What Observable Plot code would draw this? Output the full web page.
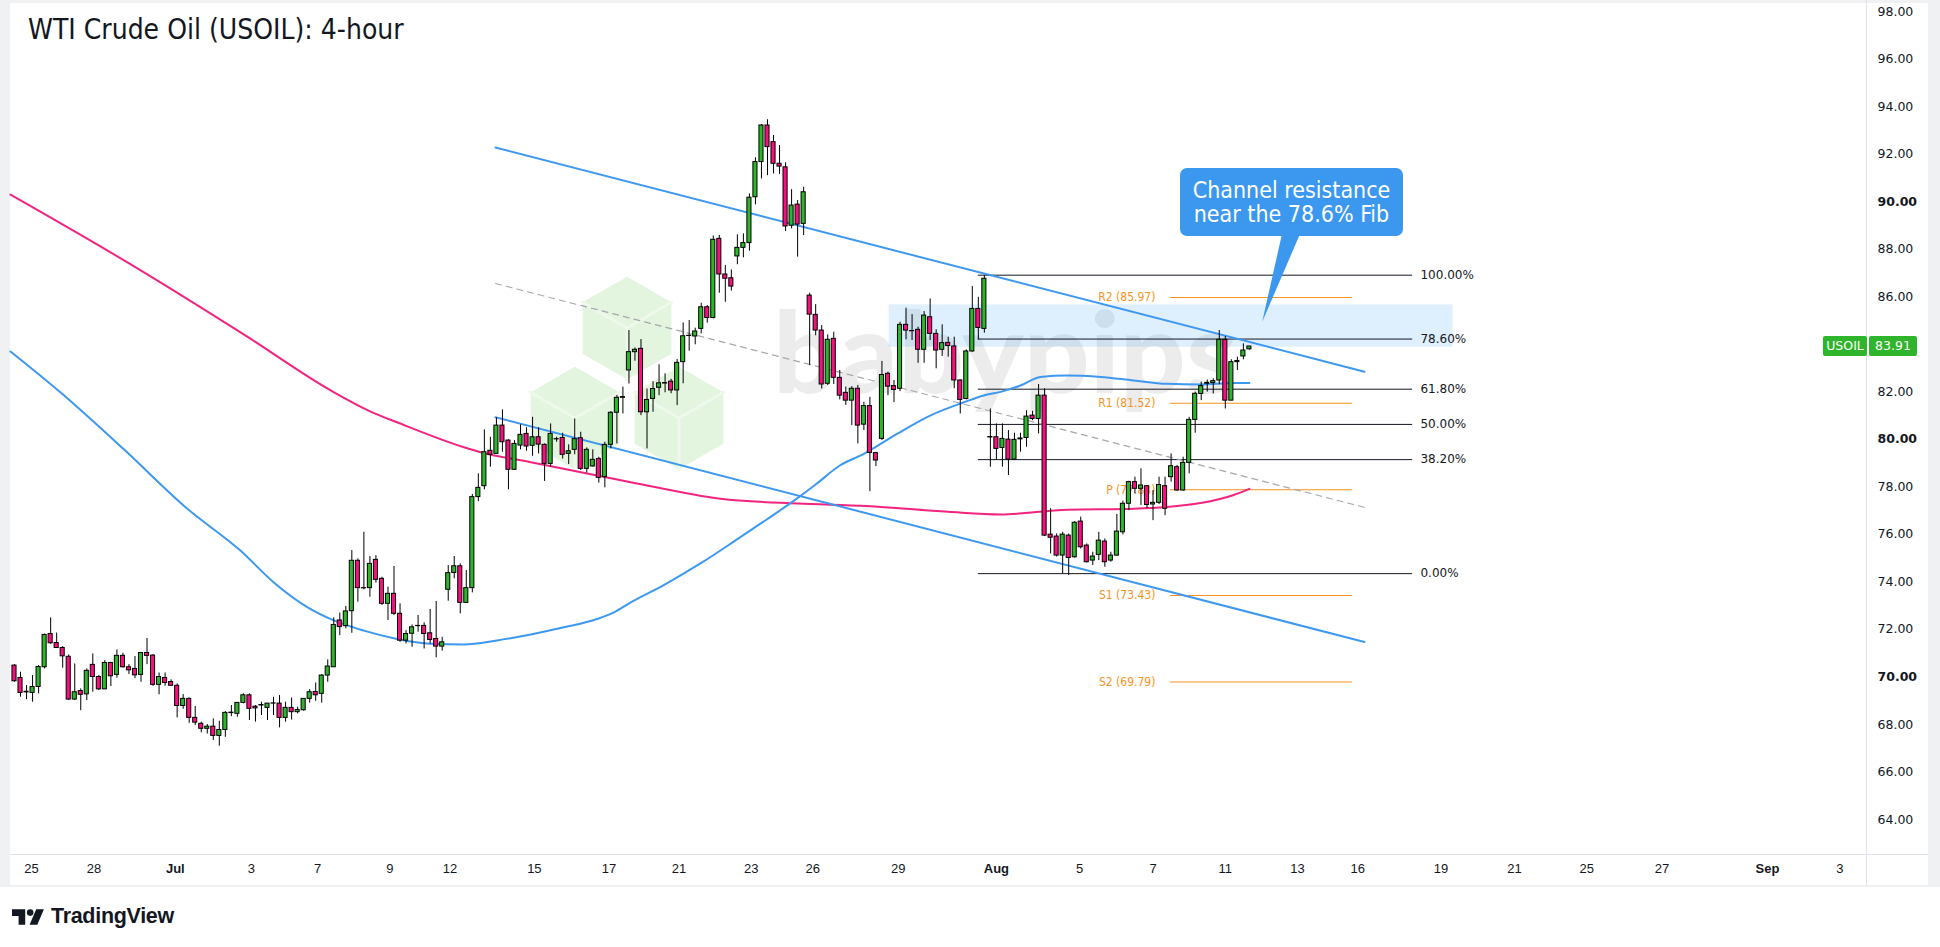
<!DOCTYPE html>
<html><head><meta charset="utf-8">
<script src="https://cdn.jsdelivr.net/npm/d3@7"></script>
<script src="https://cdn.jsdelivr.net/npm/@observablehq/plot@0.6"></script>
<style>
html,body{margin:0;padding:0;background:#fff;}
#wrap{position:relative;width:1940px;height:947px;overflow:hidden;background:#fff;}
#outer{position:absolute;left:0;top:0;width:1940px;height:887px;background:#f0f1f3;}
#inner{position:absolute;left:10px;top:3px;width:1918px;height:882px;background:#fff;}
#wm,#chart,#over{position:absolute;left:0;top:0;}
#chart svg{background:transparent;}
.vline{position:absolute;background:#e0e3eb;}
#title{position:absolute;left:28px;top:13px;font-family:"DejaVu Sans Condensed","DejaVu Sans",sans-serif;font-stretch:condensed;font-size:28px;color:#131722;white-space:nowrap;}
#callout{position:absolute;background:#3c97ef;border-radius:7px;color:#fff;font-family:"DejaVu Sans Condensed","DejaVu Sans",sans-serif;font-stretch:condensed;font-size:23px;line-height:24px;text-align:center;display:flex;align-items:center;justify-content:center;}
.tag{position:absolute;background:#2fb52c;color:#fff;font-family:"DejaVu Sans",sans-serif;font-size:12.5px;height:20px;line-height:20px;text-align:center;border-radius:2px;}
#logo{position:absolute;left:12px;top:904px;display:flex;align-items:center;gap:6px;font-family:"Liberation Sans",Arial,sans-serif;font-weight:bold;font-size:21.5px;color:#131722;letter-spacing:-0.3px;}
</style></head><body>
<div id="wrap">
  <div id="outer"></div>
  <div id="inner"></div>
  <svg id="wm" width="1940" height="885"></svg>
  <div id="chart"></div>
  <div class="vline" style="left:1866px;top:0;width:1px;height:885px"></div>
  <div class="vline" style="left:10px;top:854px;width:1918px;height:1px"></div>
  <svg id="over" width="1940" height="885"></svg>
  <div id="title">WTI Crude Oil (USOIL): 4-hour</div>
  <div id="callout" style="left:1180px;top:168px;width:223px;height:68px">Channel resistance<br>near the 78.6% Fib</div>
  <div id="logo"><svg width="33" height="18" viewBox="0 0 30 16"><path d="M0 1h12v14h-6v-8h-6z" fill="#131722"/><circle cx="16.5" cy="4" r="3" fill="#131722"/><path d="M22 1h7l-6 14h-7z" fill="#131722"/></svg><span>TradingView</span></div>
</div>
<script>
// ---------- data (4-hour candles, oldest first) ----------
const openP = [70.48,69.96,69.35,69.33,69.58,70.41,71.81,71.43,71.22,70.85,69.05,69.41,69.27,70.51,70.00,69.48,70.59,70.09,70.89,70.41,70.34,70.09,71.01,70.90,69.67,69.96,69.79,69.63,68.78,69.08,68.28,68.03,67.82,67.91,67.52,67.77,68.48,68.45,68.91,69.23,68.75,68.80,68.70,68.88,68.88,68.28,68.70,68.52,68.60,69.08,69.37,69.29,70.06,70.41,72.38,72.14,72.77,74.89,73.74,73.74,74.93,74.13,73.08,73.50,72.66,71.53,71.82,72.14,72.15,71.84,71.60,71.28,73.67,74.38,74.66,73.12,73.74,77.57,78.03,79.52,79.39,80.58,79.95,78.72,79.74,80.23,79.73,80.09,79.77,78.97,80.00,80.06,79.39,79.56,80.05,78.76,78.86,79.18,78.41,79.77,81.12,81.75,82.90,83.67,83.81,81.14,81.70,82.17,82.35,82.43,82.06,83.25,84.35,84.33,84.65,85.56,85.11,88.44,86.94,86.78,87.70,88.06,88.26,90.19,91.67,93.21,92.51,91.60,91.45,88.99,89.88,89.07,86.05,85.24,84.58,82.34,84.23,82.59,81.96,81.63,82.13,80.62,81.40,79.42,80.02,82.76,82.24,82.13,84.82,84.55,84.61,83.77,85.14,84.44,83.77,84.06,83.91,82.48,81.70,83.70,85.49,84.65,80.08,80.09,79.64,79.99,79.15,80.00,80.06,81.00,80.86,81.84,75.99,75.91,75.11,75.95,75.04,76.54,75.53,74.90,75.14,75.70,74.90,75.11,76.09,77.29,78.20,77.92,78.03,77.26,77.33,78.03,78.41,78.83,77.85,79.01,80.82,81.91,82.34,82.37,82.48,84.19,81.63,83.25,83.49,83.79];
const highP = [70.52,70.20,69.64,70.06,70.48,71.81,72.49,71.85,71.28,70.93,70.55,69.50,70.34,70.97,70.06,70.69,70.62,71.14,71.00,70.52,70.86,71.01,71.62,70.94,70.17,70.17,69.88,69.71,69.26,69.12,68.76,68.10,68.00,68.24,68.14,68.55,68.80,68.91,69.29,69.29,68.80,68.94,68.88,69.15,69.22,68.94,69.12,68.73,69.08,69.47,69.75,70.10,70.72,72.49,72.69,72.97,75.32,74.97,76.09,75.07,75.11,74.20,73.78,74.65,73.08,71.95,72.19,72.59,72.28,72.84,73.18,71.67,74.69,75.07,74.76,74.48,77.68,78.55,80.40,80.09,80.91,81.24,79.98,79.95,80.61,80.49,80.93,80.49,79.81,80.65,80.09,80.26,79.77,80.86,80.30,79.64,79.56,79.25,79.88,81.17,81.85,82.20,84.58,83.85,84.20,82.12,82.43,83.14,82.76,82.53,83.36,84.90,85.00,84.68,85.73,85.63,88.56,88.58,87.32,87.13,88.61,88.65,90.33,91.85,93.25,93.45,92.79,92.37,91.64,90.51,90.05,90.61,86.15,85.67,84.79,84.40,84.51,82.90,82.20,82.22,82.27,81.56,81.77,79.46,83.28,82.83,82.48,84.93,85.52,85.25,84.72,85.38,85.91,84.61,84.82,84.30,84.30,82.50,83.77,86.43,85.98,86.90,81.28,80.65,80.65,80.37,80.26,80.26,81.21,81.18,82.31,82.13,77.08,76.02,76.09,76.02,76.54,76.73,75.60,75.25,76.09,75.81,75.25,76.84,77.40,78.24,78.41,78.76,78.06,77.85,78.41,78.41,79.39,78.90,79.25,80.93,81.99,82.41,82.50,82.55,84.58,84.33,83.35,83.46,84.02,83.91];
const lowP = [69.78,69.15,69.05,68.94,69.29,70.34,71.37,71.20,70.37,69.01,69.01,68.58,69.01,69.36,69.43,69.48,69.60,69.95,70.37,70.10,69.93,69.78,70.52,69.61,69.25,69.61,69.62,68.28,68.64,68.05,67.96,67.65,67.60,67.33,67.09,67.46,68.33,68.31,68.87,68.17,68.10,68.38,68.17,68.38,67.86,68.10,68.19,68.45,68.56,68.90,68.98,68.90,69.78,70.41,71.74,72.03,71.84,73.15,73.67,73.36,73.95,73.01,72.38,72.59,71.46,71.39,71.25,71.88,71.18,71.39,70.81,71.09,73.19,74.13,72.66,73.12,73.54,77.38,77.88,78.83,79.39,79.46,77.88,78.69,79.56,79.50,79.29,79.39,78.23,78.83,79.88,79.17,78.94,79.35,78.69,78.58,78.83,78.16,77.96,79.60,79.81,81.07,82.33,83.29,81.00,79.60,81.14,81.84,81.96,81.92,81.42,82.34,83.71,83.98,84.44,84.89,85.07,86.15,85.77,86.24,87.35,87.64,87.92,89.87,90.96,91.10,91.17,91.15,88.75,88.86,87.67,88.58,83.11,84.36,82.12,82.27,82.31,81.66,81.43,80.58,79.81,80.37,77.80,78.86,79.95,81.84,81.55,82.01,84.19,84.16,83.20,83.20,84.16,82.97,83.49,83.46,82.13,81.07,81.66,83.67,84.19,84.47,78.83,79.11,78.83,78.48,79.11,79.46,79.67,80.79,80.23,75.91,75.18,75.05,74.34,74.27,75.00,75.39,74.80,74.69,74.90,74.62,74.83,75.08,75.98,77.00,77.71,77.22,77.08,76.58,77.26,76.79,78.20,77.82,77.82,78.55,80.26,81.63,81.99,81.91,82.30,81.28,81.63,82.90,83.35,83.75];
const closeP = [69.82,69.33,69.38,69.58,70.42,71.77,71.42,71.22,70.87,69.05,69.36,69.25,70.26,70.00,69.48,70.59,70.03,70.89,70.41,70.28,70.07,71.01,70.89,69.67,70.00,69.75,69.63,68.78,69.08,68.28,68.08,67.82,67.91,67.52,67.77,68.49,68.50,68.91,69.23,68.66,68.68,68.82,68.88,68.89,68.28,68.70,68.52,68.61,69.08,69.36,69.23,70.06,70.44,72.19,72.10,72.76,74.89,73.74,73.73,74.76,74.09,73.08,73.50,72.66,71.53,71.81,72.09,72.15,71.81,71.56,71.28,71.46,74.37,74.66,73.12,73.74,77.57,77.96,79.46,79.35,80.58,79.88,78.72,79.81,80.19,79.70,80.09,79.78,78.97,80.23,80.01,79.35,79.50,80.01,78.76,79.56,79.14,78.38,79.77,81.12,81.75,81.78,83.67,83.77,81.14,81.66,82.12,82.36,82.37,82.06,83.22,84.34,84.36,84.54,85.56,85.11,88.40,86.94,86.76,86.43,88.06,88.26,90.17,91.67,93.21,92.30,91.60,91.48,88.96,89.84,89.04,90.40,85.25,84.58,82.31,84.19,82.59,81.84,81.63,82.13,80.58,81.40,79.43,79.11,82.71,82.22,82.08,84.82,84.58,84.56,83.77,85.21,84.44,83.74,84.05,83.93,82.48,81.66,83.70,85.49,84.69,86.76,80.10,79.60,80.02,79.15,79.98,80.04,80.96,80.86,81.84,75.95,75.86,75.11,75.99,75.01,76.49,75.46,74.83,75.07,75.74,74.83,75.11,76.12,77.29,78.20,77.92,78.06,77.24,77.33,78.08,77.08,78.87,77.85,79.01,80.82,81.92,82.24,82.38,82.45,84.19,81.63,83.25,83.30,83.74,83.91];

// moving averages (sampled at candle positions)
const maBlueAt  = [-0.67,7.95,18.2,28.5,37.5,43,48.6,53,58,63.5,69,74.6,80.1,85.7,91.2,96.7,99.5,102.3,108,114,120,125,129.4,133,137,141,146.5,152,157.6,160.9,163.7,167,170.3,174.7,180.3,185.8,191.3,196.9,202.4,205];
const maBlueVal = [83.7,81.91,79.57,77.12,75.32,73.99,72.94,72.38,71.95,71.6,71.4,71.37,71.54,71.79,72.09,72.44,72.72,73.14,73.9,74.8,75.8,76.65,77.42,78.1,78.9,79.39,80.23,81.0,81.56,81.85,82.0,82.27,82.63,82.69,82.63,82.48,82.34,82.31,82.37,82.37];
const maPinkAt  = [-0.67,18.2,38.7,52.5,59.3,63.5,74.6,77.4,85.7,96.7,102.3,117.2,130,141.4,155,163.7,174.7,185.8,191.3,196.9,202.4,205];
const maPinkVal = [90.3,87.53,84.31,82.06,81.15,80.72,79.67,79.46,79.04,78.48,78.2,77.5,77.3,77.2,76.95,76.84,77.04,77.08,77.15,77.32,77.66,77.92];

// descending channel (two anchor points each)
const channelAt = [79.85, 224.1];
const channelUpper = [92.28, 82.85];
const channelLower = [80.93, 71.47];
const channelMid = [86.56, 77.14];

// Fibonacci retracement (swing low -> swing high)
const fibLow = 74.35, fibHigh = 86.91;
const fibLevels = [0, 0.382, 0.5, 0.618, 0.786, 1];
const fibFrom = 160.0, fibTo = 232.1, fibLabelAt = 233.4;

// standard pivot points
const pivotNames = ["R2","R1","P","S1","S2"];
const pivotVals = [85.97, 81.52, 77.88, 73.43, 69.79];
const pivotFrom = 191.9, pivotTo = 222.1, pivotLabelAt = 189.4;

// highlighted resistance zone
const zone = {from: 145.2, to: 238.8, low: 83.88, high: 85.66};

// x-axis tick labels (positioned at candle index)
const tickAt = [2.83,13.2,26.7,39.3,50.3,62.3,72.3,86.3,98.7,110.3,122.3,132.5,146.7,163,176.8,189,201,213,223,236.8,249,261,273.5,291,303];
const tickText = ["25","28","Jul","3","7","9","12","15","17","21","23","26","29","Aug","5","7","11","13","16","19","21","25","27","Sep","3"];
const yTicks = [64,66,68,70,72,74,76,78,80,82,84,86,88,90,92,94,96,98];

const lastPrice = closeP[closeP.length - 1];

// ---------- build ----------
const candles = openP.map((o, i) => ({i, o, h: highP[i], l: lowP[i], c: closeP[i], up: closeP[i] >= o}));
const blue = maBlueAt.map((x, k) => ({x, y: maBlueVal[k]}));
const pink = maPinkAt.map((x, k) => ({x, y: maPinkVal[k]}));
const mk = ys => channelAt.map((x, k) => ({x, y: ys[k]}));
const fibs = fibLevels.map(f => ({f, y: fibLow + f * (fibHigh - fibLow)}));
const pivots = pivotNames.map((n, k) => ({n, v: pivotVals[k]}));
const monthTicks = tickAt.filter((t, k) => isNaN(+tickText[k]));
const dayTicks = tickAt.filter((t, k) => !isNaN(+tickText[k]));
const lab = t => tickText[tickAt.indexOf(t)];

const orange = "#f7931e";
const axisFont = "DejaVu Sans, sans-serif";

const chart = Plot.plot({
  width: 1940, height: 885,
  marginLeft: 10, marginRight: 74, marginTop: 0, marginBottom: 31,
  style: {background: "transparent", overflow: "visible"},
  x: {type: "linear", domain: [-0.664, 307.44], axis: null},
  y: {type: "linear", domain: [62.53, 98.47], axis: null},
  marks: [
    Plot.rect([zone], {x1: "from", x2: "to", y1: "low", y2: "high", fill: "#2196f3", fillOpacity: 0.15}),
    Plot.ruleY(pivots, {y: "v", x1: pivotFrom, x2: pivotTo, stroke: orange, strokeWidth: 1}),
    Plot.text(pivots, {x: pivotLabelAt, y: "v", text: d => `${d.n} (${d.v.toFixed(2)})`, textAnchor: "end", fill: orange, fontSize: 12, fontFamily: "DejaVu Sans Condensed, DejaVu Sans, sans-serif"}),
    Plot.ruleY(fibs, {y: "y", x1: fibFrom, x2: fibTo, stroke: "#131722", strokeWidth: 1}),
    Plot.text(fibs, {x: fibLabelAt, y: "y", text: d => (d.f * 100).toFixed(2) + "%", textAnchor: "start", fill: "#131722", fontSize: 12, fontFamily: "DejaVu Sans, sans-serif"}),
    Plot.line(mk(channelMid), {x: "x", y: "y", stroke: "#a6a8ae", strokeWidth: 1.2, strokeDasharray: "6,5"}),
    Plot.line(pink, {x: "x", y: "y", stroke: "#f2247f", strokeWidth: 2, curve: "monotone-x"}),
    Plot.line(blue, {x: "x", y: "y", stroke: "#3d98f0", strokeWidth: 2, curve: "monotone-x"}),
    Plot.line(mk(channelUpper), {x: "x", y: "y", stroke: "#3d98f0", strokeWidth: 2}),
    Plot.line(mk(channelLower), {x: "x", y: "y", stroke: "#3d98f0", strokeWidth: 2}),
    Plot.ruleX(candles, {x: "i", y1: "l", y2: "h", stroke: "#000", strokeWidth: 1}),
    Plot.rect(candles, {x1: d => d.i - 0.34, x2: d => d.i + 0.34, y1: "o", y2: "c", fill: d => d.up ? "#2fb52c" : "#f5107d", stroke: "#000", strokeWidth: 1}),
    Plot.axisY(yTicks.filter(t => t % 10 !== 0), {anchor: "right", tickSize: 0, tickPadding: 11, fontSize: 12.5, fontFamily: axisFont, fill: "#131722", tickFormat: d => d.toFixed(2)}),
    Plot.axisY(yTicks.filter(t => t % 10 === 0), {anchor: "right", tickSize: 0, tickPadding: 11, fontSize: 12.5, fontWeight: "bold", fontFamily: axisFont, fill: "#131722", tickFormat: d => d.toFixed(2)}),
    Plot.axisX(dayTicks, {anchor: "bottom", tickSize: 0, tickPadding: 9, fontSize: 13, fontFamily: "Liberation Sans Narrow, Liberation Sans, sans-serif", fill: "#131722", tickFormat: lab}),
    Plot.axisX(monthTicks, {anchor: "bottom", tickSize: 0, tickPadding: 9, fontSize: 13, fontWeight: "bold", fontFamily: "Liberation Sans Narrow, Liberation Sans, sans-serif", fill: "#131722", tickFormat: lab})
  ]
});
document.getElementById("chart").appendChild(chart);

const sx = chart.scale("x"), sy = chart.scale("y");

// callout pointer (tip sits on the channel resistance / 78.6% level)
const tip = [sx.apply(207.2), sy.apply(84.92)];
const over = d3.select("#over");
over.append("path").attr("d", `M1282,234 L1300,234 L${tip[0]},${tip[1]} Z`).attr("fill", "#3c97ef");

// last price tags
const yp = sy.apply(lastPrice);
const t1 = document.createElement("div"); t1.className = "tag";
t1.style.cssText = `left:1823px;top:${yp - 10}px;width:44px;`; t1.textContent = "USOIL";
const t2 = document.createElement("div"); t2.className = "tag";
t2.style.cssText = `left:1869px;top:${yp - 10}px;width:48px;`; t2.textContent = lastPrice.toFixed(2);
document.getElementById("wrap").append(t1, t2);

// watermark (behind the chart)
const wm = d3.select("#wm");
const hex = (cx, cy, r) => d3.range(6).map(k => { const a = Math.PI / 3 * k - Math.PI / 2; return [cx + r * Math.cos(a), cy + r * Math.sin(a)]; });
[[627, 328], [575, 418], [679, 418]].forEach(([cx, cy]) => {
  wm.append("polygon").attr("points", hex(cx, cy, 53).map(p => p.join(",")).join(" ")).attr("fill", "#e3f4df").attr("stroke", "#fff").attr("stroke-width", 3);
  wm.append("polyline").attr("points", [[cx - 45.9, cy - 26.5], [cx, cy], [cx + 45.9, cy - 26.5]].map(p => p.join(",")).join(" ")).attr("fill", "none").attr("stroke", "#eef9ec").attr("stroke-width", 3);
  wm.append("line").attr("x1", cx).attr("y1", cy).attr("x2", cx).attr("y2", cy + 53).attr("stroke", "#eef9ec").attr("stroke-width", 3);
});
wm.append("text").attr("x", 773).attr("y", 393).attr("textLength", 464).attr("lengthAdjust", "spacingAndGlyphs")
  .attr("font-family", "Lato, 'Open Sans', sans-serif").attr("font-weight", 900).attr("font-size", 112)
  .attr("fill", "#000").attr("fill-opacity", 0.075).text("babypips");
</script>
</body></html>
